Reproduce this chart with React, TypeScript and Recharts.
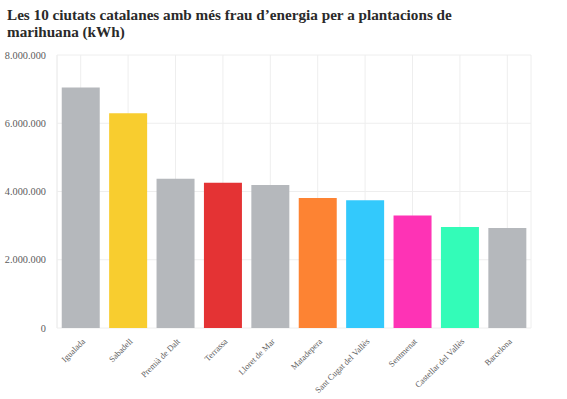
import React from 'react';
import { BarChart, Bar, XAxis, YAxis, CartesianGrid, Cell } from 'recharts';

const cities = [
  'Igualada',
  'Sabadell',
  'Premià de Dalt',
  'Terrassa',
  'Lloret de Mar',
  'Matadepera',
  'Sant Cugat del Vallès',
  'Sentmenat',
  'Castellar del Vallès',
  'Barcelona',
];
const energyKwh = [7050000, 6290000, 4370000, 4260000, 4190000, 3810000, 3740000, 3300000, 2960000, 2930000];
const barColors = [
  '#b5b8bc',
  '#f8cd2f',
  '#b5b8bc',
  '#e43334',
  '#b5b8bc',
  '#fd8333',
  '#33c9fc',
  '#fe33b5',
  '#33fcb8',
  '#b5b8bc',
];
const yTicks = [0, 2000000, 4000000, 6000000, 8000000];

const data = cities.map((city, i) => ({ city, value: energyKwh[i] }));

const fontFamily = '"Liberation Serif", serif';

// punts com a separador de milers
const formatNumber = (v: number) => String(v).replace(/\B(?=(\d{3})+(?!\d))/g, '.');

const CityTick = (props: any) => {
  const { x, y, payload } = props;
  return (
    <g transform={`translate(${x + 5},${y + 6})`}>
      <text
        x={0}
        y={0}
        textAnchor="end"
        transform="rotate(-45)"
        fontSize={8.5}
        fill="#5c5c5c"
        fontFamily={fontFamily}
      >
        {payload.value}
      </text>
    </g>
  );
};

export default function App() {
  return (
    <div style={{ position: 'absolute', left: 0, top: 0, width: 567, height: 399, background: '#fff' }}>
      <div
        style={{
          position: 'absolute',
          left: 7,
          top: 6,
          width: 460,
          fontFamily,
          fontSize: 15.2,
          fontWeight: 'bold',
          lineHeight: '17px',
          color: '#2a2a2a',
        }}
      >
        Les 10 ciutats catalanes amb més frau d’energia per a plantacions de marihuana (kWh)
      </div>
      <BarChart
        width={567}
        height={399}
        data={data}
        margin={{ top: 55, right: 36, left: 0, bottom: 0 }}
        barCategoryGap="10%"
      >
        <CartesianGrid stroke="#eeeeee" />
        <XAxis
          dataKey="city"
          interval={0}
          height={71}
          tickLine={false}
          axisLine={false}
          tick={<CityTick />}
        />
        <YAxis
          width={57}
          domain={[0, 8000000]}
          ticks={yTicks}
          tickFormatter={formatNumber}
          tickLine={false}
          axisLine={{ stroke: '#eeeeee' }}
          tickMargin={5}
          tick={{ fontSize: 10.3, fill: '#5c5c5c', fontFamily }}
        />
        <Bar dataKey="value" isAnimationActive={false}>
          {data.map((d, i) => (
            <Cell key={d.city} fill={barColors[i]} />
          ))}
        </Bar>
      </BarChart>
    </div>
  );
}
